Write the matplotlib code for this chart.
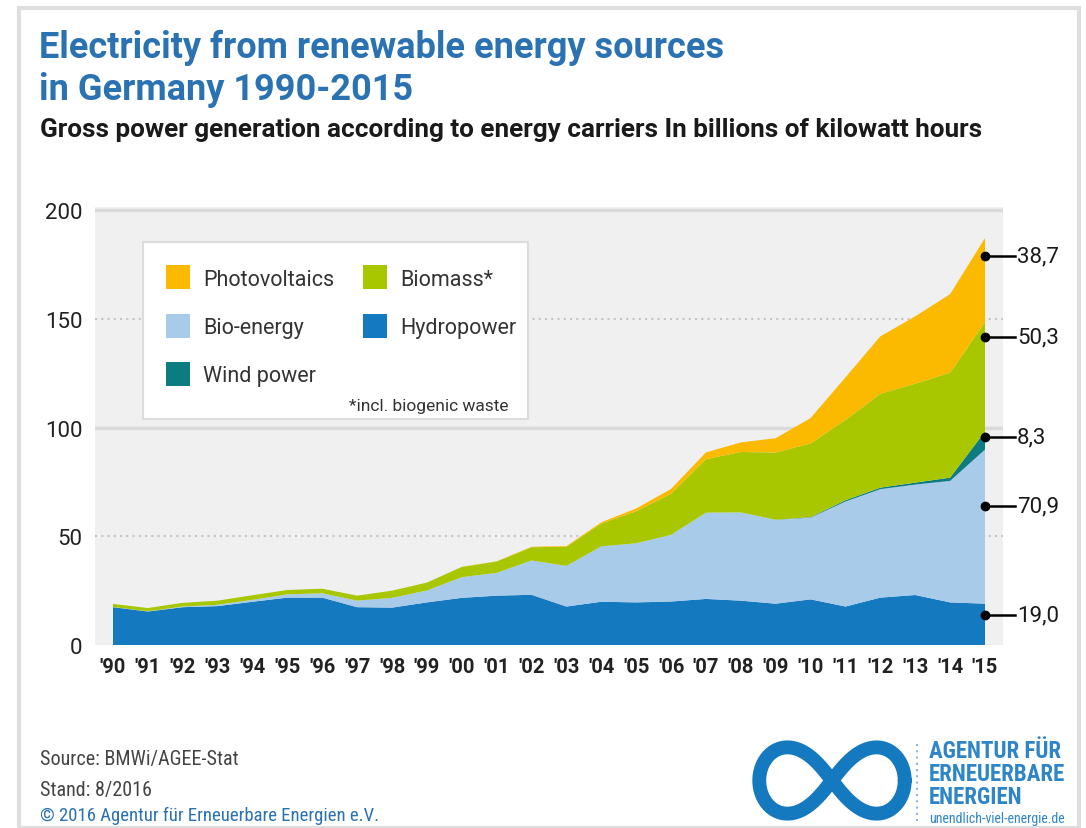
import numpy as np
import matplotlib
matplotlib.use("Agg")
import matplotlib.pyplot as plt
from matplotlib import font_manager
from matplotlib.patches import Rectangle

# gross power generation from renewables in Germany, TWh
years = np.arange(1990, 2016)
hydropower = [17.4, 15.4, 17.4, 17.9, 19.9, 21.8, 21.8, 17.4, 17.2, 19.6,
              21.7, 22.7, 23.1, 17.7, 19.9, 19.6, 20.0, 21.2, 20.4, 19.0,
              21.0, 17.7, 21.8, 23.0, 19.6, 19.0]
bio_energy = [0.1, 0.1, 0.3, 0.6, 0.9, 1.5, 2.0, 3.0, 4.5, 5.5,
              9.5, 10.5, 15.8, 18.7, 25.5, 27.2, 30.7, 39.7, 40.6, 38.6,
              37.6, 48.3, 49.9, 50.8, 55.9, 70.9]
wind_power = [0, 0, 0, 0, 0, 0, 0, 0, 0, 0,
              0, 0, 0, 0, 0, 0, 0, 0, 0, 0.04,
              0.2, 0.6, 0.7, 0.9, 1.5, 8.3]
biomass = [1.4, 1.5, 1.7, 1.9, 2.1, 2.0, 2.1, 2.3, 3.3, 3.6,
           4.7, 5.2, 6.1, 8.8, 10.5, 14.7, 18.9, 24.6, 27.8, 30.9,
           33.9, 36.9, 43.2, 45.5, 48.3, 50.3]
photovoltaics = [0, 0, 0, 0, 0, 0, 0, 0, 0, 0,
                 0.06, 0.12, 0.19, 0.31, 0.56, 1.3, 2.2, 3.1, 4.4, 6.6,
                 11.7, 19.6, 26.4, 31.0, 36.1, 38.7]
year_labels = ["'%02d" % (y % 100) for y in years]

series = [hydropower, bio_energy, wind_power, biomass, photovoltaics]
colors = ["#1479bf", "#a7cbe9", "#0d7c80", "#a9c700", "#fbb900"]

# label heights for the 2015 callouts (value units on the y axis)
callout_y = [14, 64, 95.5, 141.5, 179]


def pick_font(names):
    have = {f.name for f in font_manager.fontManager.ttflist}
    for n in names:
        if n in have:
            return n
    return "DejaVu Sans"


main_font = pick_font(["Roboto", "Open Sans"])
cond_font = pick_font(["Roboto Condensed", "Liberation Sans Narrow", "Roboto"])
plt.rcParams["font.family"] = [main_font, "DejaVu Sans"]
cond = [cond_font, "DejaVu Sans"]

W, H = 1086, 829
fig = plt.figure(figsize=(W / 100, H / 100), dpi=100)
fig.patch.set_facecolor("white")


def fx(px):
    return px / W


def fy(py):
    return 1 - py / H


# card frame
fig.patches.append(Rectangle((fx(19), fy(829)), fx(1060), fy(9) - fy(829),
                             transform=fig.transFigure, fill=False,
                             edgecolor="#dedede", lw=3, zorder=0))

blue = "#2a72b2"
fig.text(fx(39), fy(48), "Electricity from renewable energy sources",
         color=blue, fontsize=26, fontweight="bold", va="center")
fig.text(fx(39), fy(90), "in Germany 1990-2015",
         color=blue, fontsize=26, fontweight="bold", va="center")
fig.text(fx(40), fy(130),
         "Gross power generation according to energy carriers In billions of kilowatt hours",
         color="#1a1a1a", fontsize=18.8, fontweight="bold", va="center")

# plot area
ax = fig.add_axes([fx(95), fy(646), fx(1003) - fx(95), fy(208) - fy(646)])
ax.set_facecolor("#f0f0f0")
ax.stackplot(years, *series, colors=colors, lw=0, zorder=2)
step = (years[-1] - years[0]) / (985 - 113)
ax.set_xlim(years[0] - 18 * step, years[-1] + 18 * step)
ax.set_ylim(0, 201.5)
for v in (100, 200):
    ax.axhline(v, color="#dadada", lw=2.5, zorder=1)
for v in (50, 150):
    ax.axhline(v, color="#c4c4c4", lw=1.5, ls=(0, (1, 2)), zorder=1)
for s in ax.spines.values():
    s.set_visible(False)
ax.set_yticks([0, 50, 100, 150, 200])
ax.set_xticks(years)
ax.set_xticklabels(year_labels)
ax.tick_params(length=0)
ax.tick_params(axis="y", labelsize=16, pad=9, labelcolor="#222222")
ax.tick_params(axis="x", labelsize=14.5, pad=9, labelcolor="#222222")
for t in ax.get_xticklabels():
    t.set_fontweight("bold")

# 2015 callouts
last = [s[-1] for s in series]
for val, yy in zip(last, callout_y):
    ax.plot([years[-1], years[-1] + 0.85], [yy, yy], color="black", lw=1.8,
            clip_on=False, zorder=5)
    ax.plot(years[-1], yy, "o", color="black", ms=6, clip_on=False, zorder=6)
    ax.text(years[-1] + 0.92, yy, ("%.1f" % val).replace(".", ","),
            fontsize=16, va="center", ha="left", color="#1a1a1a")

# legend box
fig.patches.append(Rectangle((fx(143), fy(420)), fx(385), fy(243) - fy(420),
                             transform=fig.transFigure, facecolor="white",
                             edgecolor="#dcdcdc", lw=1.5, zorder=3))
legend_items = [("Photovoltaics", colors[4], 166, 278),
                ("Biomass*", colors[3], 363, 278),
                ("Bio-energy", colors[1], 166, 327),
                ("Hydropower", colors[0], 363, 327),
                ("Wind power", colors[2], 166, 375)]
for name, c, x0, y0 in legend_items:
    fig.patches.append(Rectangle((fx(x0), fy(y0 + 12)), fx(24), fy(0) - fy(24),
                                 transform=fig.transFigure, facecolor=c,
                                 edgecolor="none", zorder=4))
    fig.text(fx(x0 + 37), fy(y0 + 2), name, fontsize=15.5, color="#333333",
             va="center", zorder=5)
fig.text(fx(508), fy(407), "*incl. biogenic waste", fontsize=12.5,
         color="#333333", va="center", ha="right", zorder=5)

# footer
fig.text(fx(40), fy(760), "Source: BMWi/AGEE-Stat", fontsize=14.5,
         color="#444444", va="center", family=cond)
fig.text(fx(40), fy(791), "Stand: 8/2016", fontsize=14.5, color="#444444",
         va="center", family=cond)
fig.text(fx(40), fy(816), "\u00a9 2016 Agentur f\u00fcr Erneuerbare Energien e.V.",
         fontsize=13.5, color=blue, va="center", family=cond)

# logo
lax = fig.add_axes([fx(752), fy(823), fx(160), fy(740) - fy(823)])
t = np.linspace(0, 2 * np.pi, 400)
lx = np.cos(t) / (1 + np.sin(t) ** 2)
ly = np.sin(t) * np.cos(t) / (1 + np.sin(t) ** 2)
lax.plot(lx, ly * 1.4, color="#1479bf", lw=10, solid_capstyle="round")
lax.set_xlim(-1.1, 1.1)
lax.set_ylim(-0.62, 0.62)
lax.axis("off")
fig.add_artist(plt.Line2D([fx(917), fx(917)], [fy(745), fy(822)],
                          color="#8fb7dc", lw=1.5, ls=(0, (1, 2))))
logo_blue = "#2e86c8"
for i, word in enumerate(["AGENTUR F\u00dcR", "ERNEUERBARE", "ENERGIEN"]):
    fig.text(fx(929), fy(752 + 23 * i), word, fontsize=16.5, fontweight="bold",
             color=logo_blue, va="center", family=cond)
fig.text(fx(929), fy(819), "unendlich-viel-energie.de", fontsize=10,
         color=logo_blue, va="center", family=cond)

fig.savefig("out.png", dpi=100)
